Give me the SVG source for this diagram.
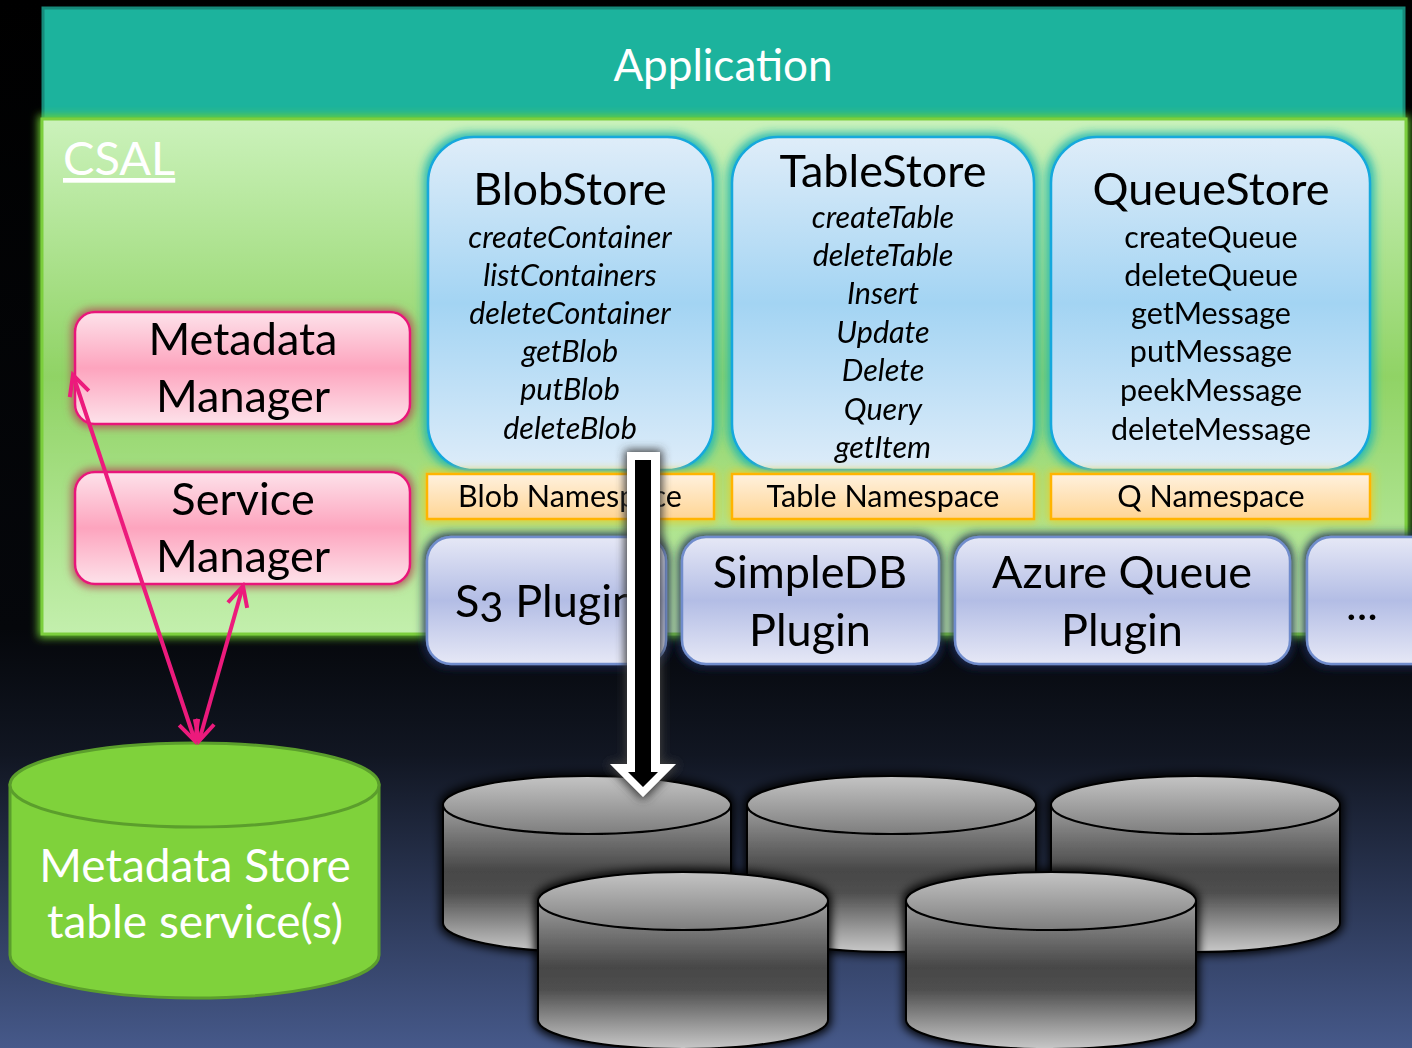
<svg xmlns="http://www.w3.org/2000/svg" width="1412" height="1048" viewBox="0 0 1412 1048">
<defs>
<style>
text{font-family:Lato,"Open Sans","Liberation Sans",sans-serif;text-anchor:middle;fill:#000}
.title{font-size:45px}
.item{font-size:30.5px;font-style:italic}
.qitem{font-size:30.5px}
.ns{font-size:30.5px}
.big{font-size:45px}
.white{fill:#fff}
.store{fill:url(#gStore);stroke:#12a8dc;stroke-width:2.5}
.nsbox{fill:url(#gNs);stroke:#ffb400;stroke-width:2.5}
.plug{fill:url(#gPlug);stroke:#6f8ccc;stroke-width:2.5}
.mgr{fill:url(#gPink);stroke:#e8177a;stroke-width:2.5}
.cbody{fill:url(#gCylBody);stroke:#000;stroke-width:2}
.ctop{fill:url(#gCylTop);stroke:#000;stroke-width:2}
.pink{stroke:#ec1a7c;stroke-width:4;fill:none;marker-start:url(#chev);marker-end:url(#chev)}
</style>
<linearGradient id="gBg" x1="0" y1="0" x2="0" y2="1">
<stop offset="0" stop-color="#000"/>
<stop offset="0.6" stop-color="#05070b"/>
<stop offset="0.72" stop-color="#111622"/>
<stop offset="1" stop-color="#46598a"/>
</linearGradient>
<linearGradient id="gCsal" x1="0" y1="0" x2="0" y2="1">
<stop offset="0" stop-color="#cbf2bb"/>
<stop offset="0.5" stop-color="#90d365"/>
<stop offset="1" stop-color="#c3efad"/>
</linearGradient>
<linearGradient id="gStore" x1="0" y1="0" x2="0" y2="1">
<stop offset="0" stop-color="#dfedf9"/>
<stop offset="0.5" stop-color="#a3d4f3"/>
<stop offset="1" stop-color="#ddecf9"/>
</linearGradient>
<linearGradient id="gNs" x1="0" y1="0" x2="0" y2="1">
<stop offset="0" stop-color="#fff1de"/>
<stop offset="1" stop-color="#ffd594"/>
</linearGradient>
<linearGradient id="gPlug" x1="0" y1="0" x2="0" y2="1">
<stop offset="0" stop-color="#e6e8f6"/>
<stop offset="0.5" stop-color="#b3bde5"/>
<stop offset="1" stop-color="#e6e8f6"/>
</linearGradient>
<linearGradient id="gPink" x1="0" y1="0" x2="0" y2="1">
<stop offset="0" stop-color="#fde2ea"/>
<stop offset="0.5" stop-color="#fda4be"/>
<stop offset="1" stop-color="#fde2ea"/>
</linearGradient>
<linearGradient id="gCylBody" x1="0" y1="0" x2="0" y2="1">
<stop offset="0" stop-color="#a0a0a0"/>
<stop offset="0.2" stop-color="#777"/>
<stop offset="0.45" stop-color="#474747"/>
<stop offset="0.6" stop-color="#4f4f4f"/>
<stop offset="0.85" stop-color="#9c9c9c"/>
<stop offset="1" stop-color="#c8c8c8"/>
</linearGradient>
<linearGradient id="gCylTop" x1="0" y1="0" x2="0" y2="1">
<stop offset="0" stop-color="#c4c4c4"/>
<stop offset="1" stop-color="#7e7e7e"/>
</linearGradient>
<filter id="fTeal" x="-10%" y="-10%" width="120%" height="120%">
<feMorphology in="SourceAlpha" operator="dilate" radius="3" result="d"/>
<feGaussianBlur in="d" stdDeviation="5" result="b"/>
<feFlood flood-color="#22b8b2"/>
<feComposite in2="b" operator="in" result="g"/>
<feMerge><feMergeNode in="g"/><feMergeNode in="SourceGraphic"/></feMerge>
</filter>
<filter id="fYellow" x="-10%" y="-30%" width="120%" height="160%">
<feMorphology in="SourceAlpha" operator="dilate" radius="2" result="d"/>
<feGaussianBlur in="d" stdDeviation="5" result="b"/>
<feFlood flood-color="#e2d030"/>
<feComposite in2="b" operator="in" result="g"/>
<feMerge><feMergeNode in="g"/><feMergeNode in="SourceGraphic"/></feMerge>
</filter>
<filter id="fNavy" x="-10%" y="-20%" width="120%" height="140%">
<feMorphology in="SourceAlpha" operator="dilate" radius="2" result="d"/>
<feGaussianBlur in="d" stdDeviation="5" result="b"/>
<feFlood flood-color="#1c2a55"/>
<feComposite in2="b" operator="in" result="g"/>
<feMerge><feMergeNode in="g"/><feMergeNode in="SourceGraphic"/></feMerge>
</filter>
<filter id="fRed" x="-10%" y="-20%" width="120%" height="140%">
<feMorphology in="SourceAlpha" operator="dilate" radius="2" result="d"/>
<feGaussianBlur in="d" stdDeviation="4" result="b"/>
<feFlood flood-color="#b05a5a"/>
<feComposite in2="b" operator="in" result="g"/>
<feMerge><feMergeNode in="g"/><feMergeNode in="SourceGraphic"/></feMerge>
</filter>
<filter id="fGreen" x="-5%" y="-5%" width="110%" height="110%">
<feMorphology in="SourceAlpha" operator="dilate" radius="2" result="d"/>
<feGaussianBlur in="d" stdDeviation="4" result="b"/>
<feFlood flood-color="#6ed030"/>
<feComposite in2="b" operator="in" result="g"/>
<feMerge><feMergeNode in="g"/><feMergeNode in="SourceGraphic"/></feMerge>
</filter>
<filter id="fShadow" x="-20%" y="-20%" width="140%" height="140%">
<feMorphology in="SourceAlpha" operator="dilate" radius="2" result="d"/>
<feGaussianBlur in="d" stdDeviation="5" result="b"/>
<feFlood flood-color="#000"/>
<feComposite in2="b" operator="in" result="g"/>
<feMerge><feMergeNode in="g"/><feMergeNode in="SourceGraphic"/></feMerge>
</filter>
<filter id="fArrow" x="-100%" y="-10%" width="300%" height="120%">
<feMorphology in="SourceAlpha" operator="dilate" radius="2" result="d"/>
<feGaussianBlur in="d" stdDeviation="5" result="b"/>
<feFlood flood-color="#3a3a3a"/>
<feComposite in2="b" operator="in" result="g"/>
<feMerge><feMergeNode in="g"/><feMergeNode in="SourceGraphic"/></feMerge>
</filter>
<marker id="chev" viewBox="-2 -14 26 28" refX="20" refY="0" markerWidth="26" markerHeight="28" markerUnits="userSpaceOnUse" orient="auto-start-reverse">
<path d="M0,-10 L20,0 L0,10" fill="none" stroke="#ec1a7c" stroke-width="4"/>
</marker>
</defs>

<rect x="0" y="0" width="1412" height="1048" fill="url(#gBg)"/>

<g id="application">
<rect x="43" y="8" width="1361" height="111" fill="#1cb39d" stroke="#168a7a" stroke-width="3"/>
<text x="723" y="81" class="white" style="font-size:44px">Application</text>
</g>

<g id="csal">
<rect x="42" y="119" width="1364" height="515" fill="url(#gCsal)" stroke="#7ccf3e" stroke-width="3" filter="url(#fGreen)"/>
<text x="63" y="175" class="white" style="font-size:47px;text-anchor:start;text-decoration:underline">CSAL</text>
</g>

<g id="blobstore" filter="url(#fTeal)">
<rect x="428" y="137" width="285" height="333" rx="46" class="store"/>
<text x="570" y="205" class="title">BlobStore</text>
<text x="570" y="248" class="item">createContainer</text>
<text x="570" y="286" class="item">listContainers</text>
<text x="570" y="324" class="item">deleteContainer</text>
<text x="570" y="362" class="item">getBlob</text>
<text x="570" y="400" class="item">putBlob</text>
<text x="570" y="439" class="item">deleteBlob</text>
</g>

<g id="tablestore" filter="url(#fTeal)">
<rect x="732" y="137" width="302" height="333" rx="46" class="store"/>
<text x="883" y="187" class="title">TableStore</text>
<text x="883" y="228" class="item">createTable</text>
<text x="883" y="266" class="item">deleteTable</text>
<text x="883" y="304" class="item">Insert</text>
<text x="883" y="343" class="item">Update</text>
<text x="883" y="381" class="item">Delete</text>
<text x="883" y="420" class="item">Query</text>
<text x="883" y="458" class="item">getItem</text>
</g>

<g id="queuestore" filter="url(#fTeal)">
<rect x="1051" y="137" width="319" height="333" rx="46" class="store"/>
<text x="1211" y="205" class="title">QueueStore</text>
<text x="1211" y="248" class="qitem">createQueue</text>
<text x="1211" y="286" class="qitem">deleteQueue</text>
<text x="1211" y="324" class="qitem">getMessage</text>
<text x="1211" y="362" class="qitem">putMessage</text>
<text x="1211" y="401" class="qitem">peekMessage</text>
<text x="1211" y="440" class="qitem">deleteMessage</text>
</g>

<g id="blob-namespace" filter="url(#fYellow)">
<rect x="427" y="474" width="287" height="45" class="nsbox"/>
<text x="570" y="507" class="ns">Blob Namespace</text>
</g>
<g id="table-namespace" filter="url(#fYellow)">
<rect x="732" y="474" width="302" height="45" class="nsbox"/>
<text x="883" y="507" class="ns">Table Namespace</text>
</g>
<g id="q-namespace" filter="url(#fYellow)">
<rect x="1051" y="474" width="319" height="45" class="nsbox"/>
<text x="1211" y="507" class="ns">Q Namespace</text>
</g>

<g id="s3-plugin" filter="url(#fNavy)">
<rect x="427" y="537" width="239" height="127" rx="24" class="plug"/>
<text x="546" y="617" class="big" style="font-variant-numeric:oldstyle-nums">S3 Plugin</text>
</g>
<g id="simpledb-plugin" filter="url(#fNavy)">
<rect x="682" y="537" width="257" height="127" rx="24" class="plug"/>
<text x="810" y="588" class="big">SimpleDB</text>
<text x="810" y="646" class="big">Plugin</text>
</g>
<g id="azure-queue-plugin" filter="url(#fNavy)">
<rect x="955" y="537" width="335" height="127" rx="24" class="plug"/>
<text x="1122" y="588" class="big">Azure Queue</text>
<text x="1122" y="646" class="big">Plugin</text>
</g>
<g id="more-plugin" filter="url(#fNavy)">
<rect x="1307" y="537" width="130" height="127" rx="24" class="plug"/>
<text x="1362" y="620" class="big">...</text>
</g>

<g id="metadata-manager" filter="url(#fRed)">
<rect x="75" y="312" width="335" height="112" rx="20" class="mgr"/>
<text x="243" y="355" class="big">Metadata</text>
<text x="243" y="412" class="big">Manager</text>
</g>
<g id="service-manager" filter="url(#fRed)">
<rect x="75" y="472" width="335" height="112" rx="20" class="mgr"/>
<text x="243" y="515" class="big">Service</text>
<text x="243" y="572" class="big">Manager</text>
</g>

<g id="metadata-store">
<path d="M10,785 L10,955 A184.5,43 0 0 0 379,955 L379,785 Z" fill="#7fd23b" stroke="#5b9e2c" stroke-width="3"/>
<ellipse cx="194.5" cy="785" rx="184.5" ry="42" fill="#7fd23b" stroke="#5b9e2c" stroke-width="3"/>
<text x="195" y="882" class="white" style="font-size:46px">Metadata Store</text>
<text x="195" y="938" class="white" style="font-size:46px">table service(s)</text>
</g>

<g id="storage-1" filter="url(#fShadow)">
<path d="M443,805 L443,923 A144,29 0 0 0 731,923 L731,805 Z" class="cbody"/>
<ellipse cx="587" cy="805" rx="144" ry="29" class="ctop"/>
</g>
<g id="storage-2" filter="url(#fShadow)">
<path d="M747,805 L747,923 A144.5,29 0 0 0 1036,923 L1036,805 Z" class="cbody"/>
<ellipse cx="891.5" cy="805" rx="144.5" ry="29" class="ctop"/>
</g>
<g id="storage-3" filter="url(#fShadow)">
<path d="M1051,805 L1051,923 A144.5,29 0 0 0 1340,923 L1340,805 Z" class="cbody"/>
<ellipse cx="1195.5" cy="805" rx="144.5" ry="29" class="ctop"/>
</g>
<g id="storage-4" filter="url(#fShadow)">
<path d="M538,901 L538,1020 A145,29 0 0 0 828,1020 L828,901 Z" class="cbody"/>
<ellipse cx="683" cy="901" rx="145" ry="29" class="ctop"/>
</g>
<g id="storage-5" filter="url(#fShadow)">
<path d="M906,901 L906,1020 A145,29 0 0 0 1196,1020 L1196,901 Z" class="cbody"/>
<ellipse cx="1051" cy="901" rx="145" ry="29" class="ctop"/>
</g>

<g id="connectors">
<line x1="73" y1="375" x2="195" y2="741" class="pink"/>
<line x1="243" y1="586" x2="199" y2="741" class="pink"/>
<g filter="url(#fArrow)">
<polygon points="627,452 660,452 660,764 676,764 643,797 610,764 627,764" fill="#fff"/>
<polygon points="635,460 651,460 651,772 658,772 643,787 628,772 635,772" fill="#000"/>
</g>
</g>
</svg>
